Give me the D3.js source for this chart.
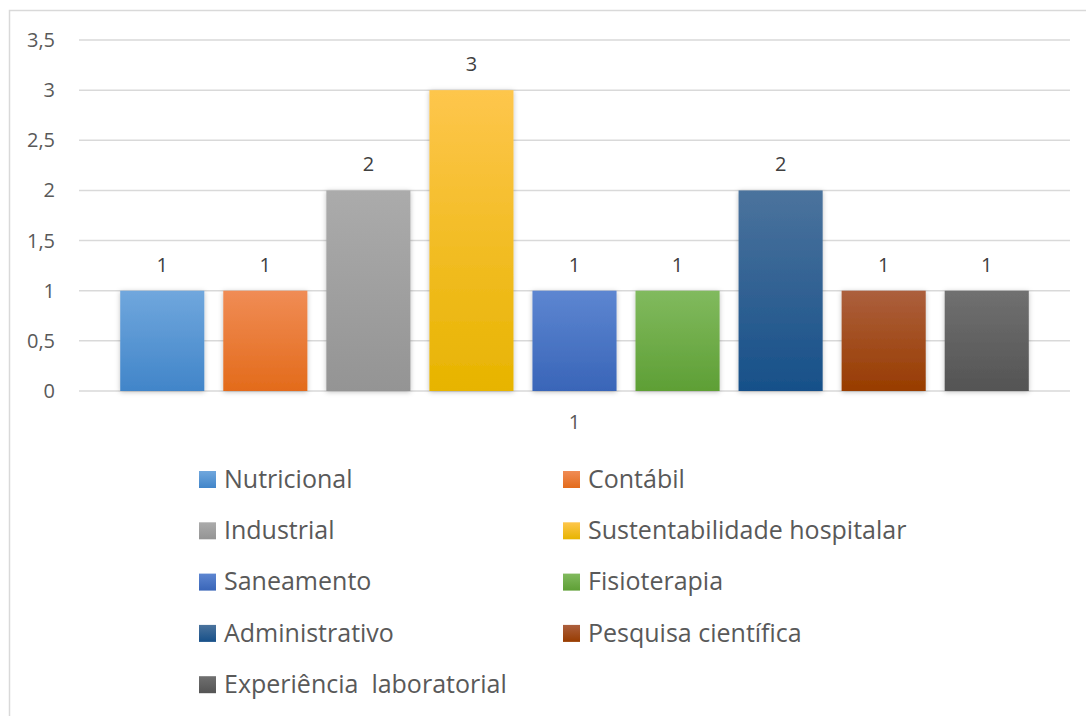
<!DOCTYPE html>
<html>
<head>
<meta charset="utf-8">
<script src="https://cdn.jsdelivr.net/npm/d3@7"></script>
<style>
  body { margin: 0; background: #fff; }
  svg { display: block; font-family: "Open Sans", "Noto Sans", sans-serif; }
</style>
</head>
<body>
<div id="chart"></div>
<script>
// data
const category = "1"
const seriesNames = ["Nutricional", "Contábil", "Industrial", "Sustentabilidade hospitalar", "Saneamento",
    "Fisioterapia", "Administrativo", "Pesquisa científica", "Experiência  laboratorial"]
const seriesValues = [1, 1, 2, 3, 1, 1, 2, 1, 1]
const yTicks = [0, 0.5, 1, 1.5, 2, 2.5, 3, 3.5]
const colorTop = ["#70a7dd", "#f08c55", "#ababab", "#fec64c", "#5d86d1", "#81ba5e", "#4b739d", "#ac5f3d", "#707070"]
const colorBottom = ["#4185c9", "#e36b1b", "#949494", "#e7b400", "#3965b8", "#5e9f35", "#175089", "#983c00", "#545454"]

const width = 1086, height = 716

const svg = d3.select("#chart").append("svg")
    .attr("width", width)
    .attr("height", height)

const defs = svg.append("defs")
seriesNames.forEach((s, i) => {
    const g = defs.append("linearGradient")
        .attr("id", "grad" + i)
        .attr("x1", 0).attr("y1", 0).attr("x2", 0).attr("y2", 1)
    g.append("stop").attr("offset", "0%").attr("stop-color", colorTop[i])
    g.append("stop").attr("offset", "100%").attr("stop-color", colorBottom[i])
})
const shadow = defs.append("filter").attr("id", "shadow")
    .attr("x", "-20%").attr("y", "-20%").attr("width", "140%").attr("height", "140%")
shadow.append("feDropShadow")
    .attr("dx", 0).attr("dy", 1).attr("stdDeviation", 2.5)
    .attr("flood-color", "#000").attr("flood-opacity", 0.25)

// chart border
svg.append("rect")
    .attr("x", 9.5).attr("y", 10.5)
    .attr("width", 1200).attr("height", 800)
    .attr("fill", "none")
    .attr("stroke", "#d9d9d9")
    .attr("stroke-width", 1.5)

const plot = { left: 79, right: 1070, top: 40, bottom: 391 }

const y = d3.scaleLinear().domain([0, 3.5]).range([plot.bottom, plot.top])
const x0 = d3.scaleBand().domain([category]).range([plot.left, plot.right]).padding(0)
const x = d3.scaleBand().domain(seriesNames).range([plot.left, plot.right])
    .paddingInner(0.184).paddingOuter(0.40)

// gridlines
svg.append("g").selectAll("line")
    .data(yTicks)
    .join("line")
    .attr("x1", plot.left).attr("x2", plot.right)
    .attr("y1", d => y(d)).attr("y2", d => y(d))
    .attr("stroke", "#d9d9d9")
    .attr("stroke-width", 1.5)

// y axis labels
const fmt = d => String(d).replace(".", ",")
svg.append("g").selectAll("text")
    .data(yTicks)
    .join("text")
    .attr("x", 55)
    .attr("y", d => y(d))
    .attr("dy", "0.35em")
    .attr("text-anchor", "end")
    .attr("fill", "#595959")
    .style("font-size", "20px")
    .text(fmt)

// bars
svg.append("g").selectAll("rect")
    .data(seriesValues)
    .join("rect")
    .attr("x", (d, i) => x(seriesNames[i]))
    .attr("y", d => y(d))
    .attr("width", x.bandwidth())
    .attr("height", d => y(0) - y(d))
    .attr("fill", (d, i) => "url(#grad" + i + ")")
    .attr("filter", "url(#shadow)")

// value labels
svg.append("g").selectAll("text")
    .data(seriesValues)
    .join("text")
    .attr("x", (d, i) => x(seriesNames[i]) + x.bandwidth() / 2)
    .attr("y", d => y(d) - 26)
    .attr("dy", "0.35em")
    .attr("text-anchor", "middle")
    .attr("fill", "#404040")
    .style("font-size", "20px")
    .text(d => d)

// category label
svg.append("text")
    .attr("x", x0(category) + x0.bandwidth() / 2)
    .attr("y", 422)
    .attr("dy", "0.35em")
    .attr("text-anchor", "middle")
    .attr("fill", "#595959")
    .style("font-size", "20px")
    .text(category)

// legend
const legend = svg.append("g").selectAll("g")
    .data(seriesNames)
    .join("g")
    .attr("transform", (d, i) => `translate(${i % 2 === 0 ? 199 : 563},${479 + Math.floor(i / 2) * 51.3})`)

legend.append("rect")
    .attr("x", 0).attr("y", -8)
    .attr("width", 17).attr("height", 17)
    .attr("fill", (d, i) => "url(#grad" + i + ")")

legend.append("text")
    .attr("x", 25)
    .attr("y", 0)
    .attr("dy", "0.35em")
    .attr("fill", "#595959")
    .style("font-size", "25px")
    .style("white-space", "pre")
    .text(d => d)
</script>
</body>
</html>
